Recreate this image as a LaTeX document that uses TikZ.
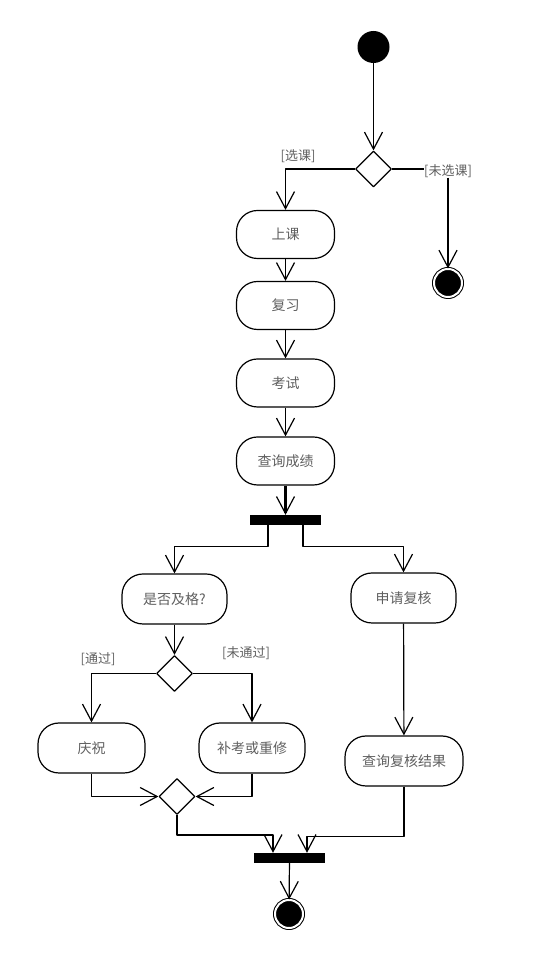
\documentclass[tikz,border=0pt]{standalone}
\usepackage{fontspec}
\newfontfamily\cjk{Noto Sans CJK SC}
\usetikzlibrary{arrows.meta,shapes.geometric}
\definecolor{txtgray}{RGB}{95,95,95}
\begin{document}
\begin{tikzpicture}[>={Straight Barb[length=17bp,width=18bp,line width=1.2bp]},line join=bevel,
  every node/.style={font=\cjk\fontsize{14bp}{16bp}\selectfont,text=txtgray},
  act/.style={draw,line width=1.2bp,rectangle,rounded corners=21bp,minimum height=48bp,inner sep=0pt},
  choice/.style={draw,line width=1.2bp,diamond,minimum size=36bp,inner sep=0pt,aspect=1},
  bar/.style={fill=black,draw=none,rectangle,minimum width=71bp,minimum height=10bp,inner sep=0pt},
  startdot/.style={circle,fill=black,draw=none,minimum size=32bp,inner sep=0pt},
  enddot/.style={circle,fill=black,draw=black,line width=1bp,double=white,double distance=2bp,minimum size=28bp,inner sep=0pt},
  guard/.style={draw=none,inner sep=0pt,font=\cjk\fontsize{13bp}{15bp}\selectfont},
  flow/.style={black,line width=1.2bp,->},
]
\useasboundingbox (0bp,0bp) rectangle (549bp,973bp);
%%
\node (node_start) at (373.5bp,926bp) [startdot] {};
  \node (node_dec1) at (373.5bp,804bp) [choice] {};
  \node (node_xuanke) at (298bp,817bp) [guard] {[选课]};
  \node (node_weixuanke) at (448bp,802bp) [guard] {[未选课]};
  \node (node_end1) at (448bp,690bp) [enddot] {};
  \node (node_shangke) at (285.5bp,738.5bp) [act,minimum width=98bp] {上课};
  \node (node_fuxi) at (285.5bp,667.5bp) [act,minimum width=98bp] {复习};
  \node (node_kaoshi) at (285.5bp,590bp) [act,minimum width=98bp] {考试};
  \node (node_chaxun) at (285.5bp,512bp) [act,minimum width=98bp] {查询成绩};
  \node (node_fork1) at (285.5bp,453bp) [bar] {};
  \node (node_jige) at (174.5bp,374bp) [act,minimum width=105bp,minimum height=50bp] {是否及格?};
  \node (node_shenqing) at (403.5bp,375bp) [act,minimum width=105bp,minimum height=50bp] {申请复核};
  \node (node_dec2) at (174.5bp,299.5bp) [choice] {};
  \node (node_tongguo) at (98bp,314bp) [guard] {[通过]};
  \node (node_weitongguo) at (246bp,320bp) [guard] {[未通过]};
  \node (node_qingzhu) at (91.5bp,225bp) [act,minimum width=107bp,minimum height=50bp] {庆祝};
  \node (node_bukao) at (252bp,225bp) [act,minimum width=106bp,minimum height=50bp] {补考或重修};
  \node (node_fcjg) at (404bp,212bp) [act,minimum width=118bp,minimum height=50bp] {查询复核结果};
  \node (node_merge) at (177bp,176.5bp) [choice] {};
  \node (node_join) at (289.5bp,115bp) [bar] {};
  \node (node_end2) at (289bp,59bp) [enddot] {};
%
  \draw [flow] (node_start) -- (node_dec1);
  \draw [flow] (node_dec1.west) -| (node_shangke.north);
  \draw [black,line width=1.2bp] (node_dec1.east) -- (node_dec1.east -| node_weixuanke.west);
  \draw [flow] (node_weixuanke.south) -- (node_end1);
  \draw [flow] (node_shangke) -- (node_fuxi);
  \draw [flow] (node_fuxi) -- (node_kaoshi);
  \draw [flow] (node_kaoshi) -- (node_chaxun);
  \draw [flow,line width=3bp] (node_chaxun) -- (node_fork1);
  \draw [flow] ([xshift=-17.5bp]node_fork1.south) -- ++(0bp,-21bp) -| (node_jige.north);
  \draw [flow] ([xshift=17.5bp]node_fork1.south) -- ++(0bp,-21bp) -| (node_shenqing.north);
  \draw [flow] (node_jige) -- (node_dec2);
  \draw [flow] (node_dec2.west) -| (node_qingzhu.north);
  \draw [flow] (node_dec2.east) -| (node_bukao.north);
  \draw [flow] (node_shenqing) -- (node_fcjg);
  \draw [flow] (node_qingzhu.south) |- (node_merge.west);
  \draw [flow] (node_bukao.south) |- (node_merge.east);
  \draw [flow] (node_merge.south) -- ++(0bp,-20bp) -| ([xshift=-16.5bp]node_join.north);
  \draw [flow] (node_fcjg.south) -- ++(0bp,-50bp) -| ([xshift=17.5bp]node_join.north);
  \draw [flow] (node_join) -- (node_end2);
%
\end{tikzpicture}
\end{document}
